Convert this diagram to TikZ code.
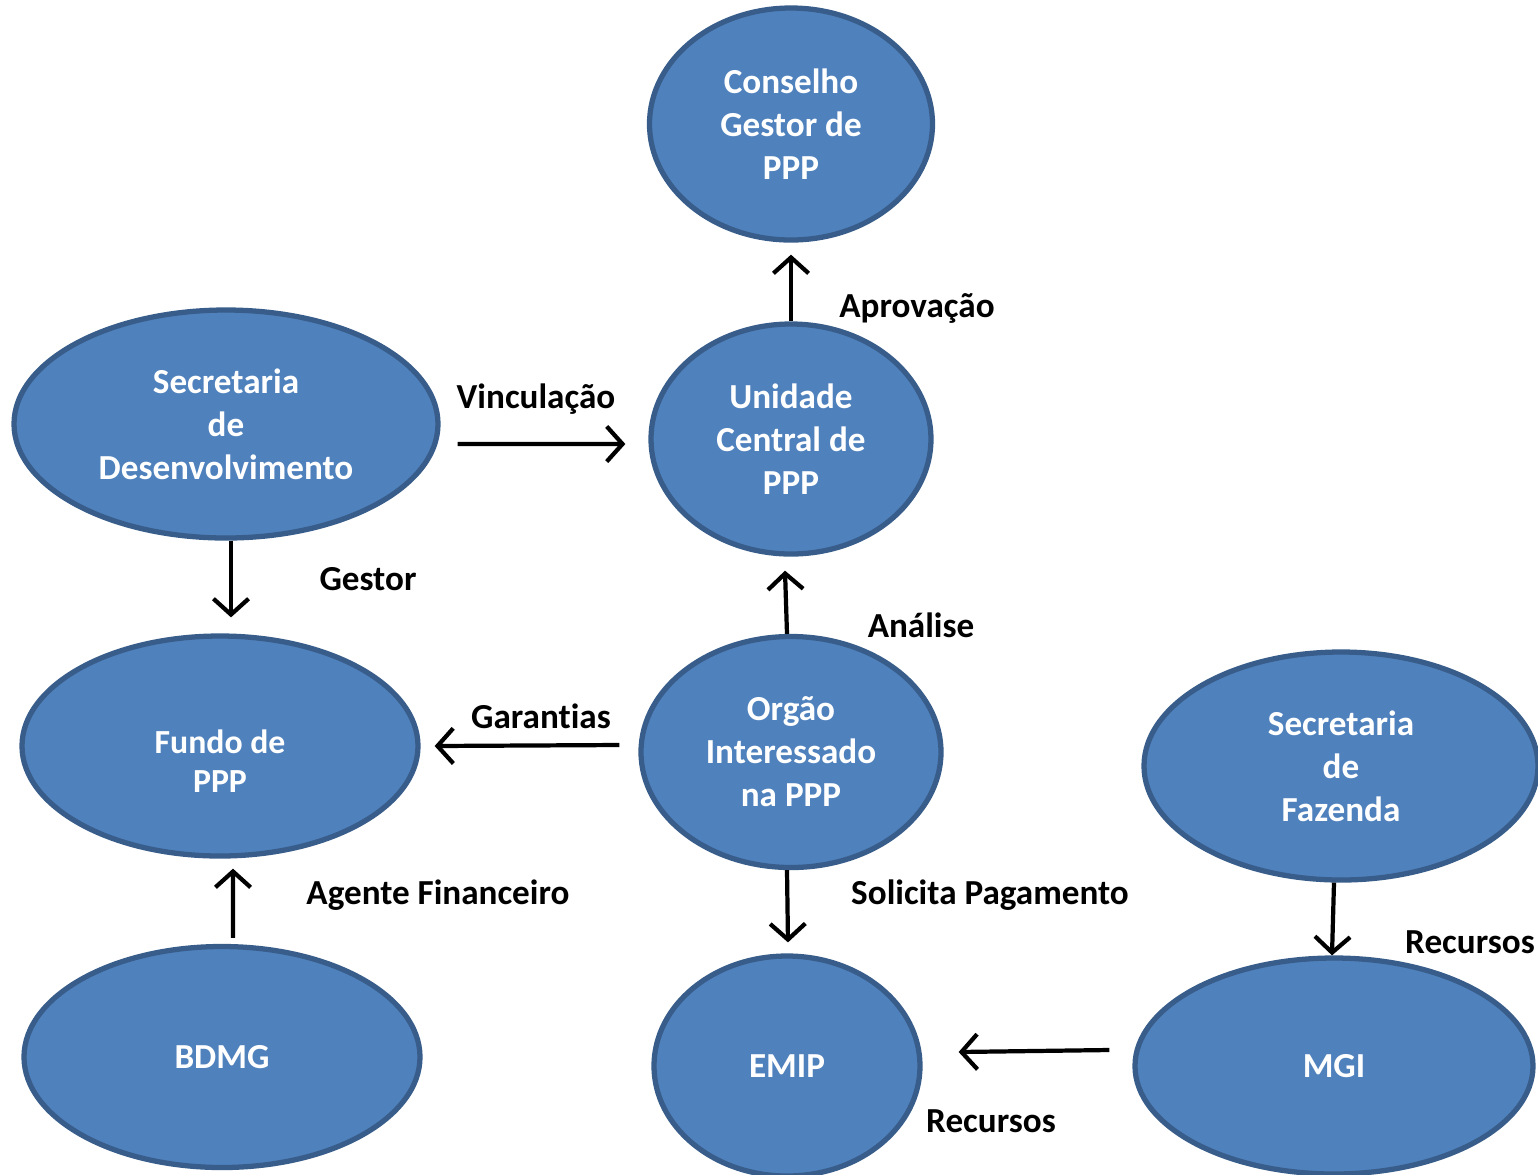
\documentclass[tikz,border=0pt]{standalone}
\usepackage{fontspec}
\setmainfont[Ligatures=CommonOff]{Carlito}
\usetikzlibrary{shapes.geometric,arrows.meta}
\definecolor{blobfill}{HTML}{4F81BD}
\definecolor{blobline}{HTML}{385D8A}

\begin{document}
\begin{tikzpicture}[
    blob/.style={ellipse,draw=blobline,fill=blobfill,line width=1.5pt,inner sep=0pt,
      text=white,align=center,font=\bfseries\fontsize{10}{12.2}\selectfont},
    blobtext/.style={text=white,align=center,font=\bfseries\fontsize{9.6}{11.2}\selectfont},
    lbl/.style={font=\bfseries\fontsize{10}{12.2}\selectfont},
    arr/.style={line width=1.2pt,-{Straight Barb[length=4.5pt,width=10pt]}}]
      \useasboundingbox (0,0) rectangle (15.38,-11.74);
      % ellipses
      \node[blob,minimum width=2.83cm,minimum height=2.32cm] (conselho) at (7.91,-1.24) {Conselho\\Gestor de\\PPP};
      \node[blob,minimum width=4.24cm,minimum height=2.28cm] (secdes) at (2.26,-4.24) {Secretaria\\de\\Desenvolvimento};
      \node[blob,minimum width=2.80cm,minimum height=2.30cm] (unidade) at (7.91,-4.39) {Unidade\\Central de\\PPP};
      \node[blob,minimum width=3.96cm,minimum height=2.20cm,
        label={[blobtext,yshift=-0.15cm]center:Fundo de\\PPP}] (fundo) at (2.20,-7.46) {};
      \node[blob,minimum width=3.00cm,minimum height=2.31cm] (orgao) at (7.91,-7.52) {Orgão\\Interessado\\na PPP};
      \node[blob,minimum width=3.94cm,minimum height=2.28cm] (secfaz) at (13.41,-7.66) {Secretaria\\de\\Fazenda};
      \node[blob,minimum width=3.96cm,minimum height=2.21cm] (bdmg) at (2.22,-10.57) {BDMG};
      \node[blob,minimum width=2.66cm,minimum height=2.20cm] (emip) at (7.87,-10.66) {EMIP};
      \node[blob,minimum width=3.98cm,minimum height=2.16cm] (mgi) at (13.34,-10.66) {MGI};
      % arrows
      \draw[arr] (unidade.north) -- ([yshift=-0.12cm]conselho.south);
      \draw[arr] ([shift={(0.17,-0.20)}]secdes.east) -- ([shift={(-0.23,-0.05)}]unidade.west);
      \draw[arr] ([xshift=0.05cm]secdes.south) -- ([shift={(0.11,0.16)}]fundo.north);
      \draw[arr] ([xshift=-0.04cm]orgao.north) -- ([shift={(-0.06,-0.14)}]unidade.south);
      \draw[arr] ([shift={(-0.19,0.07)}]orgao.west) -- ([xshift=0.14cm]fundo.east);
      \draw[arr] ([shift={(0.11,0.06)}]bdmg.north) -- ([shift={(0.13,-0.10)}]fundo.south);
      \draw[arr] ([xshift=-0.04cm]orgao.south) -- ([shift={(0.01,0.11)}]emip.north);
      \draw[arr] ([xshift=-0.07cm]secfaz.south) -- ([xshift=-0.02cm]mgi.north);
      \draw[arr] ([shift={(-0.23,0.16)}]mgi.west) -- ([shift={(0.36,0.14)}]emip.east);
      % labels
      \node[lbl] (aprov) at (9.17,-3.08) {Aprovação};
      \node[lbl] (vinc) at (5.36,-3.99) {Vinculação};
      \node[lbl] (gestor) at (3.68,-5.79) {Gestor};
      \node[lbl] (analise) at (9.21,-6.25) {Análise};
      \node[lbl] (garant) at (5.41,-7.16) {Garantias};
      \node[lbl] (agente) at (4.38,-8.95) {Agente Financeiro};
      \node[lbl] (solic) at (9.90,-8.95) {Solicita Pagamento};
      \node[lbl] (recfaz) at (14.70,-9.42) {Recursos};
      \node[lbl] (recmgi) at (9.91,-11.21) {Recursos};
\end{tikzpicture}
\end{document}
